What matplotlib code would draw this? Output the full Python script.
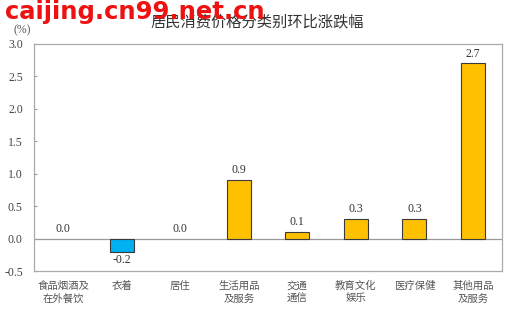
import matplotlib.pyplot as plt

categories = ['食品烟酒及\n在外餐饮', '衣着', '居住', '生活用品\n及服务', '交通\n通信',
              '教育文化\n娱乐', '医疗保健', '其他用品\n及服务']
values = [0.0, -0.2, 0.0, 0.9, 0.1, 0.3, 0.3, 2.7]
yticks = [-0.5, 0.0, 0.5, 1.0, 1.5, 2.0, 2.5, 3.0]

plt.rcParams['font.family'] = ['Noto Sans CJK SC', 'DejaVu Sans']
serif = 'Liberation Serif'

fig = plt.figure(figsize=(5.14, 3.12), dpi=100)
ax = fig.add_axes([0.066, 0.131, 0.911, 0.728])

colors = ['#00B0F0' if v < 0 else '#FFC000' for v in values]
edges = [0 if v == 0 else 0.8 for v in values]
x = range(len(values))
ax.bar(x, values, width=0.41, color=colors, edgecolor='#3a3a3a', linewidth=edges, zorder=3)
ax.axhline(0, color='#999999', linewidth=0.9, zorder=2)

for i, v in enumerate(values):
    if v < 0:
        ax.text(i, v - 0.04, f'{v:.1f}', ha='center', va='top', fontsize=8.5,
                family=serif, color='#333333')
    else:
        ax.text(i, v + 0.06, f'{v:.1f}', ha='center', va='bottom', fontsize=8.5,
                family=serif, color='#333333')

ax.set_xlim(-0.5, len(values) - 0.5)
ax.set_ylim(-0.5, 3.0)
ax.set_yticks(yticks)
ax.set_yticklabels([f'{t:.1f}' for t in yticks], family=serif, fontsize=8.5, color='#444444')
ax.set_xticks(list(x))
ax.set_xticklabels(categories, fontsize=7.5, color='#555555', linespacing=1.3)
ax.tick_params(axis='x', length=0, pad=7)
ax.tick_params(axis='y', direction='in', length=2, color='#999999', pad=8)
for s in ax.spines.values():
    s.set_color('#aaaaaa')
    s.set_linewidth(0.9)

fig.text(0.027, 0.893, '(%)', family=serif, fontsize=8.5, color='#555555')
fig.text(0.50, 0.93, '居民消费价格分类别环比涨跌幅', ha='center', va='center',
         fontsize=11, color='#333333')
fig.text(0.01, 0.96, 'caijing.cn99.net.cn', ha='left', va='center', fontsize=17.5,
         fontweight='bold', color='#ee1111', family='DejaVu Sans')

fig.savefig('out.png', dpi=100)
